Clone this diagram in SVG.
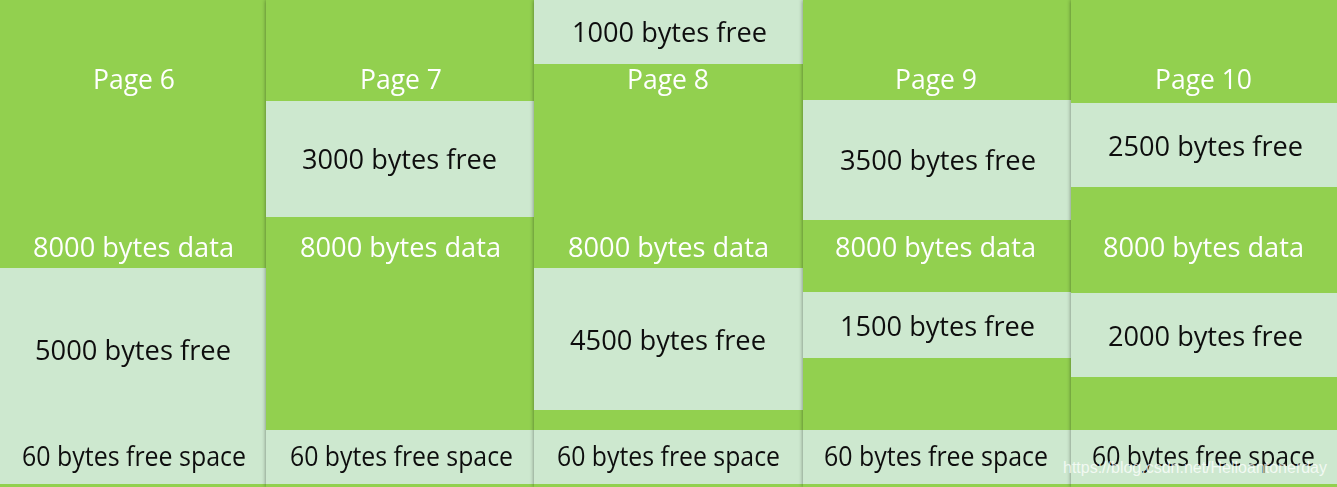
<svg xmlns="http://www.w3.org/2000/svg" width="1337" height="487" viewBox="0 0 1337 487">
  <defs>
    <filter id="sh" x="-5%" y="-5%" width="110%" height="110%">
      <feDropShadow dx="0" dy="0" stdDeviation="2" flood-color="#000" flood-opacity="0.45"/>
    </filter>
  </defs>
  <style>
    .g { fill: #92D050; }
    .l { fill: #CDE8CF; }
    text { font-family: "Open Sans", "Liberation Sans", sans-serif; font-size: 28px; text-anchor: middle; }
    .w { fill: #FFFFFF; }
    .k { fill: #111111; }
    .wm { font-family: "Liberation Sans", Arial, sans-serif; font-size: 16px; fill: #FFFFFF; fill-opacity: 0.75; text-anchor: start; }
  </style>
  <g id="connectors"></g>

  <g id="page6" filter="url(#sh)">
    <rect class="g" x="0" y="0" width="266" height="487"/>
    <rect class="l" x="0" y="268" width="266" height="216"/>
    <text class="w" x="134" y="89" textLength="82" lengthAdjust="spacingAndGlyphs">Page 6</text>
    <text class="w" x="133.5" y="257" textLength="201" lengthAdjust="spacingAndGlyphs">8000 bytes data</text>
    <text class="k" x="133" y="360" textLength="196" lengthAdjust="spacingAndGlyphs">5000 bytes free</text>
    <text class="k" x="134" y="466" textLength="224" lengthAdjust="spacingAndGlyphs">60 bytes free space</text>
  </g>

  <g id="page7" filter="url(#sh)">
    <rect class="g" x="266" y="0" width="268" height="487"/>
    <rect class="l" x="266" y="101" width="268" height="116"/>
    <rect class="l" x="266" y="430" width="268" height="54"/>
    <text class="w" x="401" y="89" textLength="82" lengthAdjust="spacingAndGlyphs">Page 7</text>
    <text class="k" x="399.5" y="169" textLength="195" lengthAdjust="spacingAndGlyphs">3000 bytes free</text>
    <text class="w" x="400.5" y="257" textLength="201" lengthAdjust="spacingAndGlyphs">8000 bytes data</text>
    <text class="k" x="401.5" y="466" textLength="223" lengthAdjust="spacingAndGlyphs">60 bytes free space</text>
  </g>

  <g id="page8" filter="url(#sh)">
    <rect class="g" x="534" y="0" width="269" height="487"/>
    <rect class="l" x="534" y="0" width="269" height="64"/>
    <rect class="l" x="534" y="268" width="269" height="142"/>
    <rect class="l" x="534" y="430" width="269" height="54"/>
    <text class="k" x="669.5" y="42" textLength="195" lengthAdjust="spacingAndGlyphs">1000 bytes free</text>
    <text class="w" x="668" y="89" textLength="82" lengthAdjust="spacingAndGlyphs">Page 8</text>
    <text class="w" x="668.5" y="257" textLength="201" lengthAdjust="spacingAndGlyphs">8000 bytes data</text>
    <text class="k" x="668" y="350" textLength="196" lengthAdjust="spacingAndGlyphs">4500 bytes free</text>
    <text class="k" x="668.5" y="466" textLength="223" lengthAdjust="spacingAndGlyphs">60 bytes free space</text>
  </g>

  <g id="page9" filter="url(#sh)">
    <rect class="g" x="803" y="0" width="268" height="487"/>
    <rect class="l" x="803" y="100" width="268" height="120"/>
    <rect class="l" x="803" y="292" width="268" height="66"/>
    <rect class="l" x="803" y="430" width="268" height="54"/>
    <text class="w" x="936" y="89" textLength="82" lengthAdjust="spacingAndGlyphs">Page 9</text>
    <text class="k" x="938" y="170" textLength="196" lengthAdjust="spacingAndGlyphs">3500 bytes free</text>
    <text class="w" x="935.5" y="257" textLength="201" lengthAdjust="spacingAndGlyphs">8000 bytes data</text>
    <text class="k" x="937.5" y="336" textLength="195" lengthAdjust="spacingAndGlyphs">1500 bytes free</text>
    <text class="k" x="936" y="466" textLength="224" lengthAdjust="spacingAndGlyphs">60 bytes free space</text>
  </g>

  <g id="page10" filter="url(#sh)">
    <rect class="g" x="1071" y="0" width="266" height="487"/>
    <rect class="l" x="1071" y="103" width="266" height="84"/>
    <rect class="l" x="1071" y="293" width="266" height="84"/>
    <rect class="l" x="1071" y="430" width="266" height="54"/>
    <text class="w" x="1203.5" y="89" textLength="97" lengthAdjust="spacingAndGlyphs">Page 10</text>
    <text class="k" x="1205.5" y="156" textLength="195" lengthAdjust="spacingAndGlyphs">2500 bytes free</text>
    <text class="w" x="1203.5" y="257" textLength="201" lengthAdjust="spacingAndGlyphs">8000 bytes data</text>
    <text class="k" x="1205.5" y="346" textLength="195" lengthAdjust="spacingAndGlyphs">2000 bytes free</text>
    <text class="k" x="1203.5" y="466" textLength="223" lengthAdjust="spacingAndGlyphs">60 bytes free space</text>
  </g>

  <text class="wm" x="1063" y="473" textLength="264" lengthAdjust="spacingAndGlyphs">https://blog.csdn.net/Helloantonerday</text>
</svg>
